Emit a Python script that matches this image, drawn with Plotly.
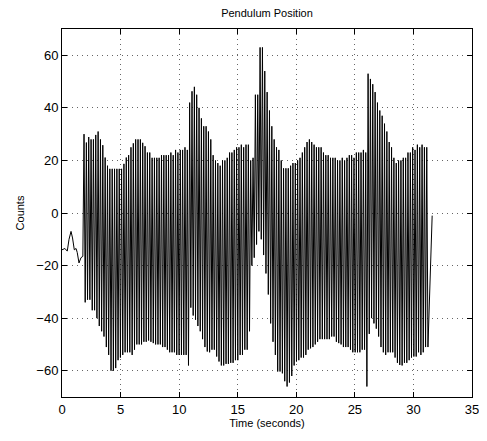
import numpy as np
import plotly.graph_objects as go

# Initial settling segment (before oscillation starts)
pre_t = [0.0, 0.25, 0.45, 0.6, 0.77, 0.9, 1.05, 1.2, 1.3, 1.45, 1.62, 1.78]
pre_y = [-14, -13.5, -14.5, -10, -7, -9.5, -14, -13.5, -15, -19, -17, -16.5]

# Oscillation: first peak time and cycle period (seconds)
t_first_peak = 1.88
period = 0.2004

# Upper peaks, one per cycle
peaks = [
    30, 26.8, 28.9, 28, 28, 29.7, 31, 28, 25.8, 21.1, 18, 16.8, 16.8, 16.8, 16.8, 16.8, 16.8,
    18.7, 21.1, 22, 25, 26.5, 28, 28, 28, 26.7, 25.4, 23, 23, 21, 21, 21, 21, 22, 22, 22, 22,
    23, 22, 24, 23, 24, 24, 25, 24,
    42, 46.3, 48, 45, 40, 36, 33, 33, 31, 28, 22, 20, 19, 18, 20, 20, 21, 23, 23, 24, 25, 25,
    26, 25, 26, 26, 20, 21, 45, 45, 63, 63, 54, 46, 39, 33, 28, 25, 24, 20, 17, 17, 17, 18, 19,
    19, 20, 21, 23, 25, 27, 28, 27, 26, 25, 25, 25, 23, 22, 22, 21, 21, 21, 20,
    20, 21, 20, 21, 22, 22, 21, 23, 23, 23, 24, 23, 53, 51, 49, 46, 42, 39, 37, 34, 31, 27,
    25, 21, 19, 20, 20, 21, 21, 23, 23, 25, 24, 26, 25, 26, 25, 25, 25,
]

# Lower troughs, one per cycle
troughs = [
    -34, -33, -33, -37, -37, -40, -43, -45, -47, -51, -54, -60, -60, -59, -56, -55, -54, -53,
    -53, -53, -54, -52, -50, -50, -50, -49, -49, -48.5, -49, -49.5, -50, -50, -50, -51, -51,
    -52, -53, -53, -53, -54, -54, -54, -54, -54, -58,
    -36, -39, -40.6, -43, -45, -48, -51, -52.7, -53, -52, -52, -54.6, -56.5, -58, -58, -57.4,
    -57.4, -57, -57, -56, -56, -54, -54, -52, -52, -45, -20, -17, -12, -7, -10, -16, -23, -31,
    -42, -49, -54, -60.3, -60.3, -61, -64, -66, -64.5, -62, -58, -56.5, -56, -55, -55, -54,
    -52, -51.5, -51, -50, -49, -48, -48, -48, -48, -48, -47, -47, -49,
    -49.5, -50, -51, -51, -51, -52, -53, -53, -53, -53, -52, -52, -66, -46, -40, -42, -44,
    -47, -51, -53, -54, -53, -53, -53, -55, -57, -57.8, -58, -57, -57, -56, -55, -54.6,
    -54.6, -53, -54, -53, -51, -51,
]

end_t = [31.6]
end_y = [-1]

# Interleave peaks and troughs in time
osc_t, osc_y = [], []
for k, (p, q) in enumerate(zip(peaks, troughs)):
    tp = t_first_peak + k * period
    osc_t += [tp, tp + period / 2]
    osc_y += [p, q]

t_all = pre_t + osc_t + end_t
y_all = pre_y + osc_y + end_y

x_ticks = [0, 5, 10, 15, 20, 25, 30, 35]
y_ticks = [-60, -40, -20, 0, 20, 40, 60]

FONT = "Liberation Sans, Arial, sans-serif"

fig = go.Figure()
fig.add_trace(go.Scatter(
    x=t_all, y=y_all, mode="lines",
    line=dict(color="black", width=1),
    showlegend=False, hoverinfo="skip",
))

axis_common = dict(
    showline=True, linecolor="black", linewidth=1, mirror="ticks",
    ticks="inside", ticklen=5, tickcolor="black",
    showgrid=True, gridcolor="rgba(0,0,0,0.6)", griddash="1px,4px", gridwidth=1,
    zeroline=False, automargin=False,
    tickfont=dict(family=FONT, size=13, color="black"),
    title_font=dict(family=FONT, size=11, color="black"),
)

# The page body has an 8px margin, so the figure is sized to fit the 487x441 window.
fig.update_layout(
    width=479, height=433,
    margin=dict(l=54, r=15, t=21, b=44),
    paper_bgcolor="white", plot_bgcolor="white",
    title=dict(text="Pendulum Position", x=0.5407, xanchor="center", y=0.997, yanchor="top",
               font=dict(family=FONT, size=11, color="black")),
    xaxis=dict(range=[0, 35], tickvals=x_ticks, title=dict(text="Time (seconds)", standoff=3),
               **axis_common),
    yaxis=dict(range=[-70, 70], tickvals=y_ticks, title=dict(text="Counts", standoff=9),
               **axis_common),
)

fig.write_html("out.html")
